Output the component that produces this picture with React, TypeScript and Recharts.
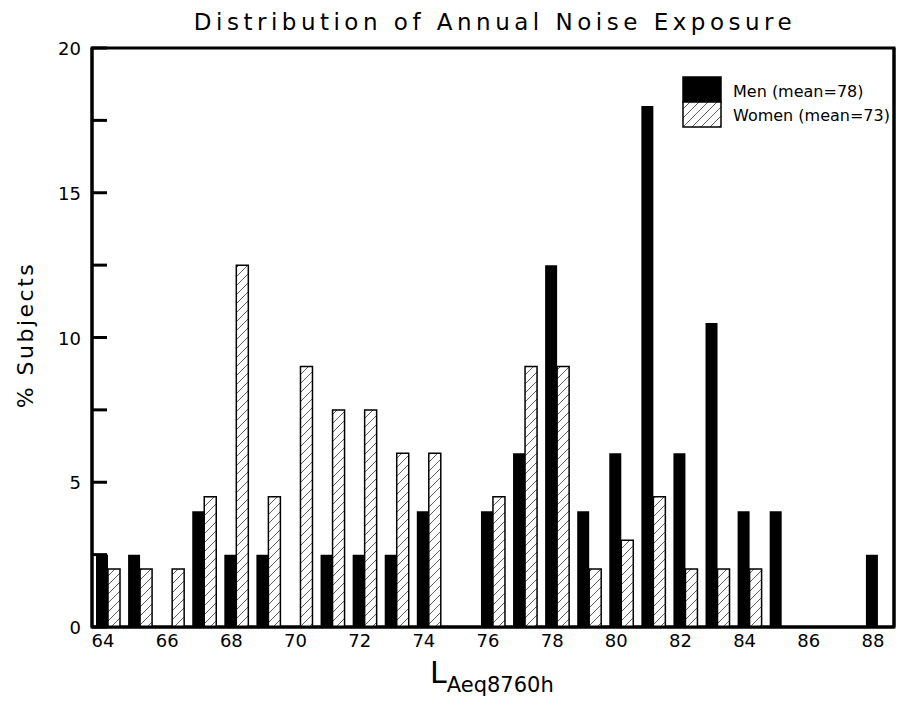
import React from 'react';
import { BarChart, Bar, XAxis, YAxis, Label, ReferenceArea } from 'recharts';

const levels = [64, 65, 66, 67, 68, 69, 70, 71, 72, 73, 74, 75, 76, 77, 78, 79, 80, 81, 82, 83, 84, 85, 86, 87, 88];
const menPct = [2.5, 2.5, 0, 4, 2.5, 2.5, 0, 2.5, 2.5, 2.5, 4, 0, 4, 6, 12.5, 4, 6, 18, 6, 10.5, 4, 4, 0, 0, 2.5];
const womenPct = [2, 2, 2, 4.5, 12.5, 4.5, 9, 7.5, 7.5, 6, 6, 0, 4.5, 9, 9, 2, 3, 4.5, 2, 2, 2, 0, 0, 0, 0];
const yTicks = [0, 2.5, 5, 7.5, 10, 12.5, 15, 17.5, 20];
const yLabelTicks = [0, 5, 10, 15, 20];
const seriesNames = ['Men (mean=78)', 'Women (mean=73)'];
const titleText = 'Distribution of Annual Noise Exposure';

const data = levels.map((l, i) => ({ level: l, men: menPct[i], women: womenPct[i] }));

const FONT = '"DejaVu Sans", sans-serif';

const YTick = (props: any) => {
  const { x, y, payload } = props;
  const v = payload.value;
  return (
    <g>
      <line x1={x} x2={x + 15} y1={y} y2={y} stroke="#000" strokeWidth={3} />
      {yLabelTicks.includes(v) && (
        <text x={x - 11} y={y} dy={7} textAnchor="end" fontFamily={FONT} fontSize={18} fill="#000">
          {v}
        </text>
      )}
    </g>
  );
};

const XTick = (props: any) => {
  const { x, y, payload } = props;
  return (
    <text x={x - 5} y={y + 20} textAnchor="middle" fontFamily={FONT} fontSize={18} fill="#000">
      {payload.value}
    </text>
  );
};

export default function App() {
  return (
    <div style={{ position: 'absolute', left: 0, top: 0, width: 899, height: 705, background: '#fff' }}>
      <BarChart
        width={899}
        height={705}
        data={data}
        margin={{ top: 48, right: 4, bottom: 0, left: 0 }}
        barGap={0}
        barSize={12}
      >
        <defs>
          <pattern id="hatch" patternUnits="userSpaceOnUse" width={9} height={9}>
            <rect width={9} height={9} fill="#fff" />
            <path d="M-2,11 L11,-2 M-2,2 L2,-2 M7,11 L11,7" stroke="#333" strokeWidth={0.8} />
          </pattern>
        </defs>
        <XAxis
          dataKey="level"
          type="category"
          height={78}
          interval={1}
          tickSize={0}
          tickMargin={0}
          tickLine={false}
          axisLine={{ stroke: '#000', strokeWidth: 3 }}
          tick={<XTick />}
        >
          <Label
            content={() => (
              <text x={430} y={683} fontFamily={FONT} fill="#000">
                <tspan fontSize={30}>L</tspan>
                <tspan fontSize={21} dy={9}>Aeq8760h</tspan>
              </text>
            )}
          />
        </XAxis>
        <YAxis
          width={92}
          domain={[0, 20]}
          ticks={yTicks}
          tickSize={0}
          tickMargin={0}
          tickLine={false}
          interval={0}
          axisLine={{ stroke: '#000', strokeWidth: 3 }}
          tick={<YTick />}
        >
          <Label
            content={() => (
              <text
                x={33}
                y={335}
                transform="rotate(-90 33 335)"
                textAnchor="middle"
                fontFamily={FONT}
                fontSize={22}
                letterSpacing={2.5}
                fill="#000"
              >
                % Subjects
              </text>
            )}
          />
        </YAxis>
        <YAxis
          yAxisId="right"
          orientation="right"
          width={1}
          domain={[0, 20]}
          tick={false}
          tickLine={false}
          axisLine={{ stroke: '#000', strokeWidth: 3 }}
        />
        <ReferenceArea y1={0} y2={20} fill="none" fillOpacity={0} stroke="#000" strokeWidth={3} ifOverflow="visible" />
        <Bar dataKey="men" name={seriesNames[0]} fill="#000" isAnimationActive={false} />
        <Bar
          dataKey="women"
          yAxisId="right"
          name={seriesNames[1]}
          fill="url(#hatch)"
          stroke="#000"
          strokeWidth={1.5}
          isAnimationActive={false}
        />
      </BarChart>
      <svg width={899} height={140} style={{ position: 'absolute', left: 0, top: 0 }}>
        <text x={495} y={30} textAnchor="middle" fontFamily={FONT} fontSize={23} letterSpacing={4.5} fill="#000">
          {titleText}
        </text>
        <rect x={683} y={77} width={38} height={25} fill="#000" stroke="#000" strokeWidth={1.5} />
        <rect x={683} y={102} width={38} height={25} fill="url(#hatch)" stroke="#000" strokeWidth={1.5} />
        <text x={733} y={97} fontFamily={FONT} fontSize={16} fill="#000">{seriesNames[0]}</text>
        <text x={733} y={121} fontFamily={FONT} fontSize={16} fill="#000">{seriesNames[1]}</text>
      </svg>
    </div>
  );
}
